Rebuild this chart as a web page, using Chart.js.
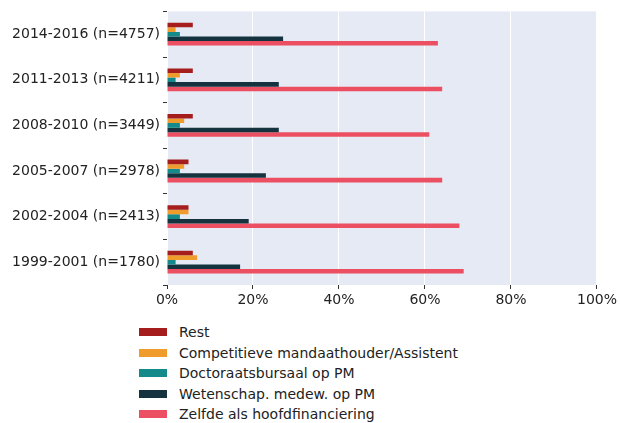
<!DOCTYPE html>
<html>
<head>
<meta charset="utf-8">
<script src="https://cdn.jsdelivr.net/npm/chart.js@4/dist/chart.umd.min.js"></script>
<style>
  html, body { margin: 0; padding: 0; background: #fff; }
  #wrap { position: relative; width: 620px; height: 423px; }
  #c { position: absolute; left: 0; top: 0; }
  #legend { position: absolute; left: 139px; top: 322px; font-family: "DejaVu Sans", sans-serif; font-size: 14px; color: #222; }
  .item { display: flex; align-items: center; height: 20.5px; }
  .box { width: 28px; height: 8px; margin-right: 12px; }
</style>
</head>
<body>
<div id="wrap">
  <canvas id="c" width="620" height="310"></canvas>
  <div id="legend"></div>
</div>
<script>
const categories = ["2014-2016 (n=4757)", "2011-2013 (n=4211)", "2008-2010 (n=3449)", "2005-2007 (n=2978)", "2002-2004 (n=2413)", "1999-2001 (n=1780)"];
const seriesNames = ["Rest", "Competitieve mandaathouder/Assistent", "Doctoraatsbursaal op PM", "Wetenschap. medew. op PM", "Zelfde als hoofdfinanciering"];
const rest = [6, 6, 6, 5, 5, 6];
const competitieve = [2, 3, 4, 4, 5, 7];
const doctoraats = [3, 2, 3, 3, 3, 2];
const wetenschap = [27, 26, 26, 23, 19, 17];
const zelfde = [63, 64, 61, 64, 68, 69];
const xTicks = [0, 20, 40, 60, 80, 100];
const colors = ["#a51d1d", "#f09c2c", "#148a8b", "#15323f", "#eb4f61"];

const seriesValues = [rest, competitieve, doctoraats, wetenschap, zelfde];
const datasets = seriesNames.map((name, i) => ({
  label: name,
  data: seriesValues[i],
  backgroundColor: colors[i],
  borderWidth: 0,
  barPercentage: 1.0,
  categoryPercentage: 0.5
}));

const bgPlugin = {
  id: 'bg',
  beforeDraw(chart) {
    const {ctx, chartArea: a} = chart;
    ctx.save();
    ctx.fillStyle = '#e5eaf5';
    ctx.fillRect(a.left, a.top, a.right - a.left, a.bottom - a.top);
    ctx.restore();
  }
};

Chart.defaults.font.family = '"DejaVu Sans", sans-serif';
Chart.defaults.font.size = 14;
Chart.defaults.color = '#222';

new Chart(document.getElementById('c'), {
  type: 'bar',
  data: { labels: categories, datasets },
  options: {
    indexAxis: 'y',
    responsive: false,
    animation: false,
    layout: { padding: { top: 8, right: 21, left: 0, bottom: 0 } },
    plugins: { legend: { display: false }, tooltip: { enabled: false } },
    scales: {
      x: {
        min: 0, max: 100,
        afterBuildTicks(scale) { scale.ticks = xTicks.map(v => ({ value: v })); },
        afterFit(scale) { scale.height = 25; },
        grid: { color: '#ffffff', lineWidth: 1, tickColor: '#333', tickLength: 4, drawTicks: true },
        border: { display: false },
        ticks: { callback: v => v + '%', padding: 3, color: '#222' }
      },
      y: {
        afterFit(scale) { scale.width = 167; },
        grid: { drawOnChartArea: false, tickColor: '#333', tickLength: 4 },
        border: { display: false },
        ticks: { padding: 3, color: '#222' }
      }
    }
  },
  plugins: [bgPlugin]
});

const leg = document.getElementById('legend');
seriesNames.forEach((name, i) => {
  const it = document.createElement('div');
  it.className = 'item';
  const b = document.createElement('div');
  b.className = 'box';
  b.style.background = colors[i];
  const t = document.createElement('span');
  t.textContent = name;
  it.appendChild(b); it.appendChild(t);
  leg.appendChild(it);
});
</script>
</body>
</html>
